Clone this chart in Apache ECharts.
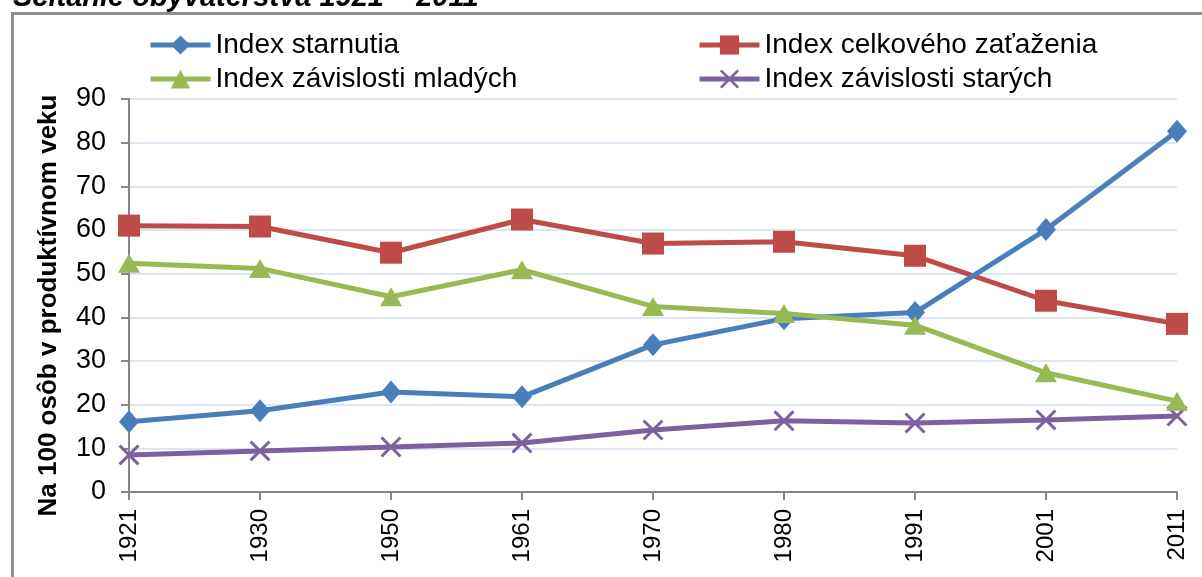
<!DOCTYPE html>
<html>
<head>
<meta charset="utf-8">
<script src="https://cdn.jsdelivr.net/npm/echarts@6/dist/echarts.min.js"></script>
<style>html,body{margin:0;padding:0;background:#fff}#c{width:1202px;height:577px}</style>
</head>
<body>
<div id="c"></div>
<script>
const years = ['1921','1930','1950','1961','1970','1980','1991','2001','2011'];
const starnutia = [16.1, 18.6, 22.9, 21.8, 33.7, 39.7, 41.1, 60.1, 82.6];
const celkove = [61.0, 60.8, 54.8, 62.4, 56.9, 57.3, 54.1, 43.8, 38.5];
const mladi = [52.4, 51.2, 44.7, 50.9, 42.5, 40.9, 38.2, 27.3, 20.8];
const stari = [8.5, 9.4, 10.3, 11.2, 14.2, 16.3, 15.8, 16.5, 17.4];
const yTicks = {min: 0, max: 90, interval: 10};

const FONT = '"Liberation Sans", Arial, sans-serif';
const crossPath = 'path://M0,1 L1,0 L10,9 L9,10 Z M9,0 L10,1 L1,10 L0,9 Z';
const legendText = {fontFamily: FONT, fontSize: 28, lineHeight: 28, color: '#000'};

const chart = echarts.init(document.getElementById('c'), null, {renderer: 'canvas'});
chart.setOption({
  animation: false,
  backgroundColor: '#fff',
  textStyle: {fontFamily: FONT},
  title: {
    text: 'Sčítanie obyvateľstva 1921 – 2011',
    left: 8, top: -22,
    textStyle: {fontFamily: FONT, fontSize: 29, fontWeight: 'bold', fontStyle: 'italic', color: '#000'}
  },
  graphic: [{
    type: 'rect', left: 10, top: 11, shape: {x: 0, y: 0, width: 1300, height: 700},
    style: {fill: 'none', stroke: '#8f8f8f', lineWidth: 3}, silent: true, z: -1
  }],
  legend: [
    {
      orient: 'vertical', left: 143, top: 26, itemWidth: 60, itemHeight: 24, itemGap: 6,
      data: ['Index starnutia', 'Index závislosti mladých'],
      lineStyle: {width: 5}, textStyle: legendText
    },
    {
      orient: 'vertical', left: 692, top: 26, itemWidth: 60, itemHeight: 24, itemGap: 6,
      data: ['Index celkového zaťaženia', 'Index závislosti starých'],
      lineStyle: {width: 5}, textStyle: legendText
    }
  ],
  grid: {left: 129, right: 25, top: 99, bottom: 85, containLabel: false},
  xAxis: {
    type: 'category', data: years, boundaryGap: false,
    axisLine: {lineStyle: {color: '#868686', width: 2}},
    axisTick: {show: true, length: 8, alignWithLabel: true, lineStyle: {color: '#868686', width: 2}},
    axisLabel: {rotate: 90, fontSize: 24, color: '#000', margin: 17, fontFamily: FONT},
    splitLine: {show: false}
  },
  yAxis: {
    type: 'value', min: yTicks.min, max: yTicks.max, interval: yTicks.interval,
    name: 'Na 100 osôb v produktívnom veku', nameLocation: 'middle', nameRotate: 90, nameGap: 67,
    nameTextStyle: {fontFamily: FONT, fontSize: 26, fontWeight: 'bold', color: '#000', padding: [0, 20, 0, 0]},
    axisLine: {show: true, lineStyle: {color: '#868686', width: 2}},
    axisTick: {show: true, length: 8, lineStyle: {color: '#868686', width: 2}},
    axisLabel: {fontSize: 27, color: '#000', margin: 23, fontFamily: FONT},
    splitLine: {lineStyle: {color: '#dce6f2', width: 2}}
  },
  series: [
    {
      name: 'Index starnutia', type: 'line', data: starnutia,
      symbol: 'diamond', symbolSize: [20, 23],
      lineStyle: {color: '#4a7ebb', width: 5}, itemStyle: {color: '#4a7ebb'}, z: 4
    },
    {
      name: 'Index celkového zaťaženia', type: 'line', data: celkove,
      symbol: 'rect', symbolSize: 22,
      lineStyle: {color: '#be4b48', width: 5}, itemStyle: {color: '#be4b48'}, z: 3
    },
    {
      name: 'Index závislosti mladých', type: 'line', data: mladi,
      symbol: 'triangle', symbolSize: [22, 19],
      lineStyle: {color: '#98b954', width: 5}, itemStyle: {color: '#98b954'}, z: 5
    },
    {
      name: 'Index závislosti starých', type: 'line', data: stari,
      symbol: crossPath, symbolSize: 21,
      lineStyle: {color: '#7d60a0', width: 5}, itemStyle: {color: '#7d60a0'}, z: 2
    }
  ]
});
</script>
</body>
</html>
